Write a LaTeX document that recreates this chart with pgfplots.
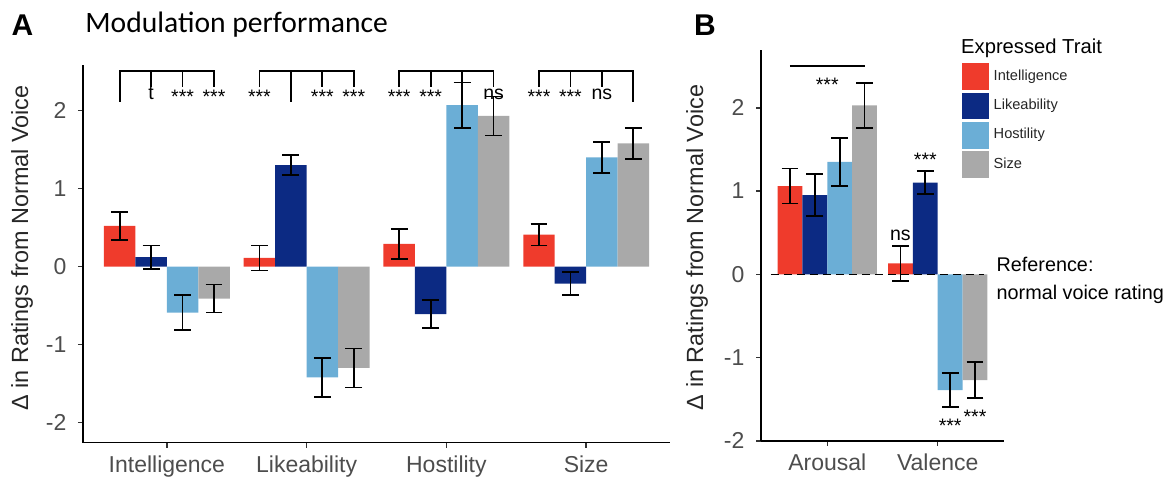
\documentclass[border=0pt]{standalone}
\usepackage{fontspec}
\setmainfont{Liberation Sans}
\newfontfamily\carlito{Carlito}
\usepackage{pgfplots}
\usepackage{pgfplotstable}
\pgfplotsset{compat=1.18}

\definecolor{cInt}{HTML}{EF3B2C}
\definecolor{cLik}{HTML}{0C2A83}
\definecolor{cHos}{HTML}{6BAED6}
\definecolor{cSiz}{HTML}{A9A9A9}
\definecolor{txtgray}{HTML}{4D4D4D}

% panel A: groups at 0 Intelligence, 1 Likeability, 2 Hostility, 3 Size;
% x is the bar centre inside its group (dodge width 0.9, four bars)
\pgfplotstableread{
x y e
-0.3375 0.52 0.18
0.6625 0.11 0.16
1.6625 0.29 0.19
2.6625 0.41 0.14
}\AInt
\pgfplotstableread{
x y e
-0.1125 0.12 0.15
0.8875 1.30 0.13
1.8875 -0.61 0.18
2.8875 -0.22 0.15
}\ALik
\pgfplotstableread{
x y e
0.1125 -0.59 0.22
1.1125 -1.42 0.25
2.1125 2.07 0.29
3.1125 1.40 0.20
}\AHos
\pgfplotstableread{
x y e
0.3375 -0.41 0.18
1.3375 -1.30 0.25
2.3375 1.93 0.25
3.3375 1.58 0.20
}\ASiz
% panel B: groups at 0 Arousal, 1 Valence
\pgfplotstableread{
x y e
-0.3375 1.06 0.21
0.6625 0.13 0.21
}\BInt
\pgfplotstableread{
x y e
-0.1125 0.95 0.25
0.8875 1.10 0.14
}\BLik
\pgfplotstableread{
x y e
0.1125 1.35 0.29
1.1125 -1.39 0.20
}\BHos
\pgfplotstableread{
x y e
0.3375 2.03 0.27
1.3375 -1.27 0.22
}\BSiz

\pgfplotsset{
  panel/.style={
    scale only axis, clip=false,
    axis x line*=bottom, axis y line*=left,
    axis line style={-, line width=0.75pt, black},
    tick align=outside, major tick length=2.5pt,
    tick style={line width=0.75pt, black!80},
    ytick={-2,...,2}, yticklabels={-2,-1,0,1,2},
    ticklabel style={font=\fontsize{11.5}{13}\selectfont, text=txtgray},
    yticklabel style={xshift=-2.3pt},
    xticklabel style={yshift=-0.6pt},
    ylabel style={font=\fontsize{11.7}{13}\selectfont, text=black!85, anchor=center},
  },
  sqlegend/.style={legend image code/.code={\fill[##1] (0pt,-6.65pt) rectangle (13.3pt,6.65pt);}},
  sigbar/.style={ybar, bar width=0.225, bar shift=0pt, draw=none, sqlegend,
    error bars/y dir=both, error bars/y explicit,
    error bars/error bar style={line width=0.9pt, black},
    error bars/error mark options={rotate=90, line width=0.9pt, black, mark size=4.2pt}},
}
\tikzset{
  brk/.style={line width=0.9pt, black},
  sig/.style={anchor=base, inner sep=0pt, font=\fontsize{9.75}{11}\selectfont},
}

\begin{document}
\begin{tikzpicture}
\useasboundingbox (0,0) rectangle (587pt,238.5pt);

% ---------------- panel A
\begin{axis}[panel,
  at={(41.5pt,17.25pt)}, anchor=south west,
  width=293.5pt, height=188.5pt,
  xmin=-0.6, xmax=3.6, ymin=-2.256, ymax=2.577,
  xtick={0,1,2,3}, xticklabels={Intelligence,Likeability,Hostility,Size},
  ylabel={Δ in Ratings from Normal Voice},
  ylabel style={at={(axis description cs:-0.104,0.516)}},
]
\addplot[sigbar, fill=cInt] table[x=x, y=y, y error=e] {\AInt};
\addplot[sigbar, fill=cLik] table[x=x, y=y, y error=e] {\ALik};
\addplot[sigbar, fill=cHos] table[x=x, y=y, y error=e] {\AHos};
\addplot[sigbar, fill=cSiz] table[x=x, y=y, y error=e] {\ASiz};

% comparison brackets (long leg = reference trait)
\draw[brk] (axis cs:-0.3375,2.11) |- (axis cs:0.3375,2.51) -- (axis cs:0.3375,2.30);
\draw[brk] (axis cs:-0.1125,2.51) -- (axis cs:-0.1125,2.30);
\draw[brk] (axis cs:0.1125,2.51) -- (axis cs:0.1125,2.30);
\node[sig] at (axis cs:-0.1125,2.14) {t};
\node[sig] at (axis cs:0.1125,2.09) {***};
\node[sig] at (axis cs:0.3375,2.09) {***};

\draw[brk] (axis cs:0.6625,2.30) |- (axis cs:1.3375,2.51) -- (axis cs:1.3375,2.30);
\draw[brk] (axis cs:0.8875,2.51) -- (axis cs:0.8875,2.11);
\draw[brk] (axis cs:1.1125,2.51) -- (axis cs:1.1125,2.30);
\node[sig] at (axis cs:0.6625,2.09) {***};
\node[sig] at (axis cs:1.1125,2.09) {***};
\node[sig] at (axis cs:1.3375,2.09) {***};

\draw[brk] (axis cs:1.6625,2.30) |- (axis cs:2.3375,2.51) -- (axis cs:2.3375,2.30);
\draw[brk] (axis cs:1.8875,2.51) -- (axis cs:1.8875,2.30);
\draw[brk] (axis cs:2.1125,2.51) -- (axis cs:2.1125,2.11);
\node[sig] at (axis cs:1.6625,2.09) {***};
\node[sig] at (axis cs:1.8875,2.09) {***};
\node[sig] at (axis cs:2.3375,2.14) {ns};

\draw[brk] (axis cs:2.6625,2.30) |- (axis cs:3.3375,2.51) -- (axis cs:3.3375,2.11);
\draw[brk] (axis cs:2.8875,2.51) -- (axis cs:2.8875,2.30);
\draw[brk] (axis cs:3.1125,2.51) -- (axis cs:3.1125,2.30);
\node[sig] at (axis cs:2.6625,2.09) {***};
\node[sig] at (axis cs:2.8875,2.09) {***};
\node[sig] at (axis cs:3.1125,2.14) {ns};
\end{axis}

% ---------------- panel B
\begin{axis}[panel,
  at={(380.5pt,18pt)}, anchor=south west,
  width=121.5pt, height=195.5pt,
  xmin=-0.6, xmax=1.6, ymin=-2.002, ymax=2.694,
  xtick={0,1}, xticklabels={Arousal,Valence},
  ylabel={Δ in Ratings from Normal Voice},
  ylabel style={at={(axis description cs:-0.263,0.495)}},
  legend cell align=left,
  legend style={at={(rel axis cs:0.826,0.967)}, anchor=north west,
    draw=none, fill=none, inner sep=0pt, row sep=1.35pt, column sep=2.5pt,
    font=\fontsize{7.3}{8.5}\selectfont, nodes={inner sep=0pt, text=black!85}},
]
\addplot[sigbar, fill=cInt] table[x=x, y=y, y error=e] {\BInt};
\addplot[sigbar, fill=cLik] table[x=x, y=y, y error=e] {\BLik};
\addplot[sigbar, fill=cHos] table[x=x, y=y, y error=e] {\BHos};
\addplot[sigbar, fill=cSiz] table[x=x, y=y, y error=e] {\BSiz};
\legend{Intelligence,Likeability,Hostility,Size}

\draw[line width=0.8pt, black, dash pattern=on 4pt off 2.5pt] (axis cs:-0.51,0) -- (axis cs:1.415,0);
\draw[brk] (axis cs:-0.3375,2.50) -- (axis cs:0.3375,2.50);
\node[sig] at (axis cs:0,2.20) {***};
\node[sig] at (axis cs:0.6625,0.41) {ns};
\node[sig] at (axis cs:0.8875,1.30) {***};
\node[sig] at (axis cs:1.1125,-1.894) {***};
\node[sig] at (axis cs:1.3375,-1.786) {***};
\node[anchor=base west, inner sep=0pt, font=\fontsize{9.9}{11}\selectfont] at (axis cs:1.53,0.03) {Reference:};
\node[anchor=base west, inner sep=0pt, font=\fontsize{9.9}{11}\selectfont] at (axis cs:1.53,-0.30) {normal voice rating};
\node[anchor=base west, inner sep=0pt, font=\fontsize{10.1}{12}\selectfont] at (axis cs:1.209,2.646) {Expressed Trait};
\end{axis}

% panel letters and title
\node[inner sep=0pt, font=\bfseries\fontsize{15}{17}\selectfont] at (11.25pt,226pt) {A};
\node[inner sep=0pt, font=\bfseries\fontsize{15}{17}\selectfont] at (352.5pt,226pt) {B};
\node[anchor=west, inner sep=0pt, font=\carlito\fontsize{14.8}{16}\selectfont] at (42.5pt,226pt) {Modulation performance};
\end{tikzpicture}
\end{document}
